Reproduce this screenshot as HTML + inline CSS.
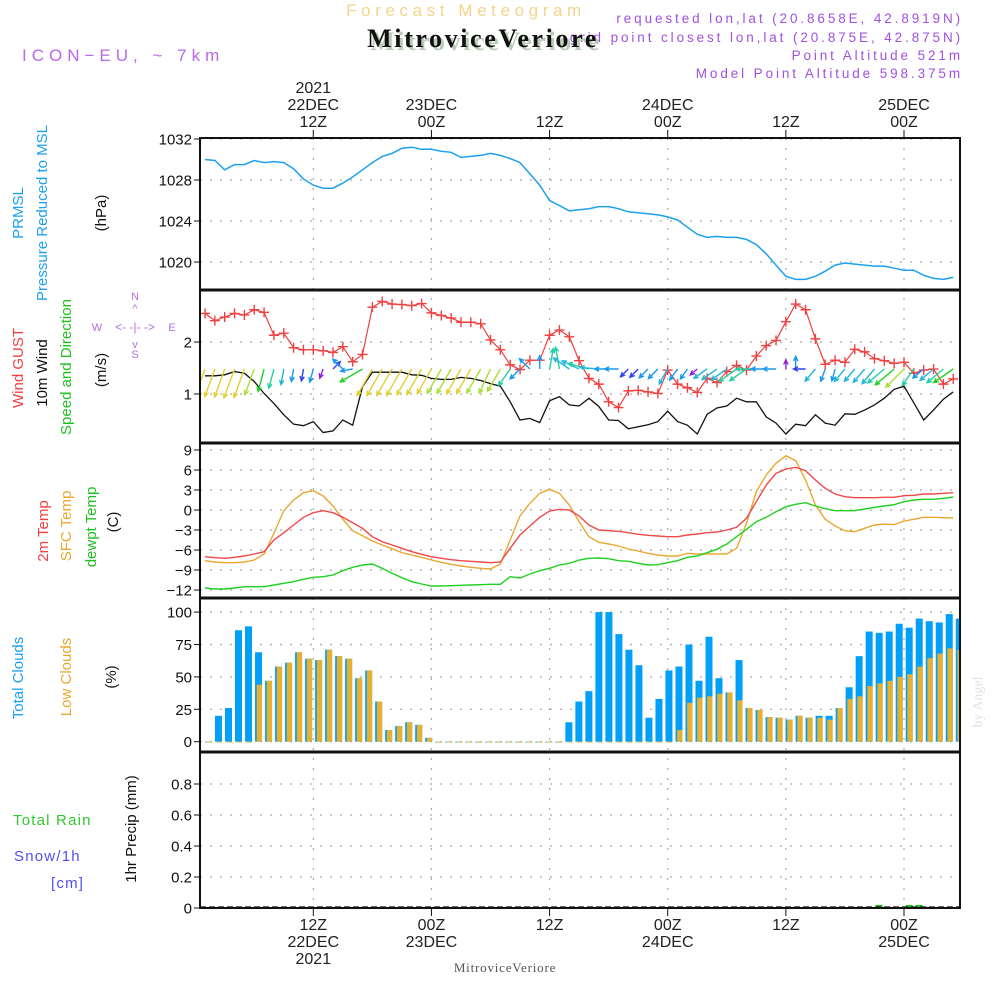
<!DOCTYPE html>
<html><head><meta charset="utf-8"><title>Meteogram MitroviceVeriore</title>
<style>
html,body{margin:0;padding:0;background:#fff;}
svg{display:block;}
text{font-family:"Liberation Sans",sans-serif;}
</style></head>
<body>
<svg id="chart" width="1000" height="1000" viewBox="0 0 1000 1000" xmlns="http://www.w3.org/2000/svg">
<rect x="0" y="0" width="1000" height="1000" fill="#fff"/>
<!-- header -->
<text x="466" y="16" text-anchor="middle" font-size="17" fill="#f4d48c" letter-spacing="4.6">Forecast Meteogram</text>
<text x="963" y="23" text-anchor="end" font-size="13.5" fill="#a050e0" letter-spacing="2.9">requested lon,lat (20.8658E, 42.8919N)</text>
<text x="963" y="42" text-anchor="end" font-size="13.5" fill="#a050e0" letter-spacing="2.9">grid point closest lon,lat (20.875E, 42.875N)</text>
<text x="486" y="50" text-anchor="middle" font-size="26" font-weight="bold" fill="#b8ccb8" letter-spacing="2.6" style="font-family:'Liberation Serif',serif">MitroviceVeriore</text>
<text x="483" y="47" text-anchor="middle" font-size="26" font-weight="bold" fill="#111" letter-spacing="2.6" style="font-family:'Liberation Serif',serif">MitroviceVeriore</text>
<text x="963" y="60" text-anchor="end" font-size="13.5" fill="#a050e0" letter-spacing="2.9">Point Altitude 521m</text>
<text x="963" y="78" text-anchor="end" font-size="13.5" fill="#a050e0" letter-spacing="2.9">Model Point Altitude 598.375m</text>
<text x="22" y="61" font-size="17" fill="#b868e8" letter-spacing="5">ICON−EU, ~ 7km</text>

<!-- left labels -->
<g font-size="15">
<text transform="translate(23,213) rotate(-90)" text-anchor="middle" fill="#1ca0f0">PRMSL</text>
<text transform="translate(47,213) rotate(-90)" text-anchor="middle" fill="#1ca0f0">Pressure Reduced to MSL</text>
<text transform="translate(106,213) rotate(-90)" text-anchor="middle" fill="#111">(hPa)</text>
<text transform="translate(23,368) rotate(-90)" text-anchor="middle" fill="#f04040">Wind GUST</text>
<text transform="translate(47,373) rotate(-90)" text-anchor="middle" fill="#111">10m Wind</text>
<text transform="translate(71,367) rotate(-90)" text-anchor="middle" fill="#20c020">Speed and Direction</text>
<text transform="translate(106,370) rotate(-90)" text-anchor="middle" fill="#111">(m/s)</text>
<text transform="translate(48,531) rotate(-90)" text-anchor="middle" fill="#f04040">2m Temp</text>
<text transform="translate(71,526) rotate(-90)" text-anchor="middle" fill="#e8a830">SFC Temp</text>
<text transform="translate(96,527) rotate(-90)" text-anchor="middle" fill="#20c020">dewpt Temp</text>
<text transform="translate(118,522) rotate(-90)" text-anchor="middle" fill="#111">(C)</text>
<text transform="translate(23,678) rotate(-90)" text-anchor="middle" fill="#1ca0f0">Total Clouds</text>
<text transform="translate(71,677) rotate(-90)" text-anchor="middle" fill="#e8a830">Low Clouds</text>
<text transform="translate(116,677) rotate(-90)" text-anchor="middle" fill="#111">(%)</text>
<text transform="translate(136,829) rotate(-90)" text-anchor="middle" fill="#111">1hr Precip (mm)</text>
<text x="13" y="825" fill="#30c830" letter-spacing="1.2">Total  Rain</text>
<text x="14" y="861" fill="#5050f0" letter-spacing="1.2">Snow/1h</text>
<text x="51" y="888" fill="#5050f0" letter-spacing="1.2">[cm]</text>
</g>
<g font-size="11" fill="#b070e0">
<text x="135" y="300" text-anchor="middle">N</text>
<text x="135" y="358" text-anchor="middle">S</text>
<text x="97" y="331" text-anchor="middle">W</text>
<text x="172" y="331" text-anchor="middle">E</text>
<text x="135" y="331" text-anchor="middle" font-size="12">&lt;- -|- -&gt;</text>
<text x="135" y="312" text-anchor="middle">^</text>
<text x="135" y="348" text-anchor="middle">v</text>
</g>
<text transform="translate(982,702) rotate(-90)" text-anchor="middle" font-size="14" fill="#dde6dd" style="font-family:'Liberation Serif',serif">by Angel</text>
<text x="505" y="972" text-anchor="middle" font-size="13" fill="#555" letter-spacing="0.8" style="font-family:'Liberation Serif',serif">MitroviceVeriore</text>
<g id="plot"></g>
</svg>
<script>
// hours relative to 22DEC 12Z, -11..65
const hours = [];
for (let h = -11; h <= 65; h++) hours.push(h);
const timeTicks = [0, 12, 24, 36, 48, 60];
const topTickLabels = [["2021","22DEC","12Z"],["","23DEC","00Z"],["","","12Z"],["","24DEC","00Z"],["","","12Z"],["","25DEC","00Z"]];
const bottomTickLabels = [["12Z","22DEC","2021"],["00Z","23DEC",""],["12Z","",""],["00Z","24DEC",""],["12Z","",""],["00Z","25DEC",""]];

const pressure = [1030.0,1029.9,1029.0,1029.5,1029.5,1029.9,1029.7,1029.8,1029.7,1029.1,1028.1,1027.5,1027.2,1027.2,1027.7,1028.3,1029.0,1029.7,1030.3,1030.6,1031.1,1031.2,1031.0,1031.0,1030.8,1030.7,1030.2,1030.3,1030.4,1030.6,1030.4,1030.1,1029.7,1028.6,1027.5,1026.0,1025.5,1025.0,1025.1,1025.2,
1025.4,1025.4,1025.2,1024.9,1024.8,1024.7,1024.6,1024.4,1024.1,1023.4,1022.7,1022.4,1022.5,1022.4,1022.4,1022.2,1021.7,1020.8,1019.7,1018.6,1018.3,1018.3,1018.6,1019.1,1019.7,1019.9,1019.8,1019.7,1019.6,1019.6,1019.4,1019.2,1019.2,1018.7,1018.4,1018.3,1018.5];
const pressureTicks = [1032, 1028, 1024, 1020];

const windSpeed = [1.35,1.35,1.37,1.43,1.40,1.24,1.01,0.82,0.60,0.42,0.39,0.47,0.26,0.29,0.50,0.40,1.14,1.42,1.42,1.42,1.42,1.37,1.36,1.30,1.28,1.28,1.32,1.30,1.26,1.20,1.15,0.85,0.50,0.53,0.45,0.87,0.95,0.79,0.77,0.92,
0.76,0.50,0.49,0.33,0.37,0.41,0.47,0.67,0.47,0.40,0.23,0.61,0.73,0.77,0.92,0.85,0.85,0.56,0.44,0.23,0.42,0.39,0.60,0.44,0.40,0.62,0.61,0.69,0.79,0.92,1.09,1.15,0.83,0.50,0.69,0.90,1.04];
const windGust = [2.55,2.41,2.48,2.55,2.52,2.62,2.57,2.13,2.17,1.89,1.85,1.85,1.83,1.80,1.91,1.62,1.76,2.67,2.78,2.73,2.72,2.70,2.74,2.56,2.51,2.46,2.38,2.38,2.35,2.04,1.85,1.56,1.47,1.65,1.65,2.13,2.23,2.10,1.64,1.30,
1.19,0.85,0.74,1.06,1.07,1.04,1.01,1.46,1.19,1.12,1.03,1.30,1.22,1.43,1.55,1.46,1.73,1.93,2.03,2.39,2.73,2.62,2.06,1.57,1.65,1.61,1.86,1.81,1.68,1.64,1.59,1.61,1.40,1.46,1.48,1.19,1.29];
const windDir = [20,20,20,20,20,20,15,15,10,10,10,15,20,225,135,80,60,30,30,30,30,30,30,30,30,30,30,30,30,25,30,35,45,135,180,190,170,125,115,105,
95,90,90,45,45,45,45,30,35,35,50,55,55,55,55,55,90,90,90,180,180,90,40,20,15,40,40,40,40,50,50,45,35,50,50,50,55];
const windTicks = [2, 1];

const temp2m = [-7.0,-7.15,-7.25,-7.1,-6.9,-6.6,-6.25,-4.5,-3.4,-2.25,-1.1,-0.4,-0.1,-0.4,-1.1,-1.9,-2.75,-4.0,-4.75,-5.25,-5.75,-6.25,-6.65,-7.0,-7.25,-7.45,-7.6,-7.7,-7.8,-7.9,-7.8,-5.75,-3.75,-2.4,-1.1,-0.15,0.1,0,-0.9,-2.25,
-3.0,-3.1,-3.2,-3.4,-3.65,-3.8,-3.9,-4.0,-4.0,-3.75,-3.6,-3.4,-3.3,-3.0,-2.6,-1.25,1.25,3.75,5.5,6.15,6.4,5.9,4.5,3.25,2.4,2.0,1.85,1.85,1.85,1.9,1.9,2.15,2.2,2.4,2.4,2.5,2.6];
const tempSfc = [-7.6,-7.8,-7.9,-7.9,-7.8,-7.5,-6.6,-3.5,-0.1,1.5,2.6,2.9,2.1,0.6,-1.4,-3.1,-3.85,-4.65,-5.25,-5.8,-6.4,-6.75,-7.1,-7.5,-7.85,-8.15,-8.4,-8.6,-8.75,-8.85,-8.1,-4.5,-0.9,1.0,2.5,3.1,2.5,0.75,-1.75,-4.0,
-4.85,-5.1,-5.4,-5.85,-6.15,-6.5,-6.75,-6.9,-6.9,-6.5,-6.6,-6.6,-6.6,-6.6,-5.75,-2.0,2.75,5.25,7.0,8.15,7.4,4.5,0.75,-1.4,-2.4,-3.1,-3.25,-2.75,-2.25,-2.1,-2.2,-1.65,-1.4,-1.1,-1.1,-1.15,-1.2];
const dewPoint = [-11.7,-11.85,-11.85,-11.7,-11.5,-11.5,-11.5,-11.25,-11.0,-10.75,-10.4,-10.1,-10.0,-9.75,-9.1,-8.6,-8.25,-8.1,-8.75,-9.5,-10.15,-10.75,-11.1,-11.4,-11.4,-11.35,-11.3,-11.25,-11.2,-11.15,-11.15,-10.0,-10.2,-9.6,-9.1,-8.75,-8.25,-8.0,-7.5,-7.25,
-7.2,-7.3,-7.6,-7.7,-8.0,-8.25,-8.2,-7.9,-7.6,-7.1,-6.9,-6.4,-5.9,-5.1,-4.0,-2.9,-1.75,-1.1,-0.25,0.5,0.85,1.1,0.6,0.2,-0.1,-0.1,-0.1,0.15,0.4,0.6,0.8,1.25,1.5,1.6,1.6,1.75,1.95];
const tempTicks = [9, 6, 3, 0, -3, -6, -9, -12];

const totalClouds = [0,20,26,86,89,69,47,58,61,69,64,63,71,66,64,49,55,31,9,12,15,13,3,0,0,0,0,0,0,0,0,0,0,0,0,0,
15,31,39,100,100,83,71,59,18.5,33,55,58,75,47,81,49,38,63,26,24.5,19,18.5,17,20,18.5,20,20,26,42,66,85,84,85,91,88,95,93,92,98.5,95];
const lowClouds = [0,0,0,0,0,44,47,58,61,69,64,63,71,66,64,49,55,31,9,12,15,13,3,0,0,0,0,0,0,0,0,0,0,0,0,0,
0,0,0,0,0,0,0,0,0,0,0,9,30,34,35,37,38,32,26,24.5,19,18.5,17,20,18.5,18.5,17,26,33,35,43,45,47,50,52,58,64.5,68,72,71];
const cloudTicks = [100, 75, 50, 25, 0];

const precipBars = [67, 70, 71, 72];
const precipVals = [0.02, 0.02, 0.02, 0.008];
const precipTicks = [0.8, 0.6, 0.4, 0.2, 0];

// ---------- layout ----------
const X0 = 200, X1 = 960;
const xT = h => 313.3 + h * 9.845;
const xBar = i => 208.5 + i * 10.01;
const panels = [
  {top:138, bot:290}, {top:290, bot:443}, {top:443, bot:598}, {top:598, bot:752}, {top:752, bot:908}
];
const yP = v => 139 + (1032 - v) * 10.25;
const yW = v => 394 - (v - 1) * 52;
const yTm = v => 510 - v * 6.667;
const yC = v => 741.7 - v * 1.296;
const yR = v => 908 - v * 155;

const NS = "http://www.w3.org/2000/svg";
const plot = document.getElementById('plot');
function el(tag, attrs, parent) {
  const e = document.createElementNS(NS, tag);
  for (const k in attrs) e.setAttribute(k, attrs[k]);
  (parent || plot).appendChild(e);
  return e;
}
const clip = el('clipPath', {id:'pclip'});
el('rect', {x:X0, y:138, width:X1 - X0, height:770}, clip);

// gridlines
function hgrid(vals, fy, name, fmt) {
  vals.forEach(v => {
    const y = fy(v);
    const g = el('line', {x1:X0, x2:X1, y1:y, y2:y, stroke:'#aaa', 'stroke-width':1.2, 'stroke-dasharray':'2 8'});
    
    
    const t = el('line', {x1:X0 - 6, x2:X0, y1:y, y2:y, stroke:'#111', 'stroke-width':1});
    
    
    const lb = el('text', {x:X0 - 8, y:y + 5.5, 'text-anchor':'end', 'font-size':15, fill:'#111'});
    lb.textContent = fmt ? fmt(v) : String(v);
    
    
  });
}
hgrid(pressureTicks, yP, 'pressure-axis');
hgrid(windTicks, yW, 'wind-axis');
hgrid(tempTicks, yTm, 'temp-axis', v => v < 0 ? '−' + Math.abs(v) : String(v));
hgrid(cloudTicks, yC, 'cloud-axis');
hgrid(precipTicks, yR, 'precip-axis', v => v === 0 ? '0' : v.toFixed(1));

timeTicks.forEach((h, i) => {
  const x = xT(h);
  const g = el('line', {x1:x, x2:x, y1:138, y2:908, stroke:'#aaa', 'stroke-width':1.2, 'stroke-dasharray':'2 8'});
  
  
  el('line', {x1:x, x2:x, y1:130, y2:138, stroke:'#111', 'stroke-width':1});
  el('line', {x1:x, x2:x, y1:908, y2:916, stroke:'#111', 'stroke-width':1});
  topTickLabels[i].forEach((s, k) => {
    if (!s) return;
    const t = el('text', {x:x, y:93 + k * 17, 'text-anchor':'middle', 'font-size':16, fill:'#222'});
    t.textContent = s;
    
    
  });
  bottomTickLabels[i].forEach((s, k) => {
    if (!s) return;
    const t = el('text', {x:x, y:930 + k * 17, 'text-anchor':'middle', 'font-size':16, fill:'#222'});
    t.textContent = s;
    
    
  });
});

// series helpers
const series = el('g', {'clip-path':'url(#pclip)'});
function line(vals, fy, color, name, w) {
  const d = vals.map((v, i) => (i ? 'L' : 'M') + xT(hours[i]).toFixed(1) + ',' + fy(v).toFixed(1)).join('');
  const p = el('path', {d:d, fill:'none', stroke:color, 'stroke-width':w || 1.4}, series);
  
  
}
line(pressure, yP, '#1ca0f0', 'pressure-line', 1.5);

// temperature
line(tempSfc, yTm, '#e8a830', 'sfc-temp-line');
line(temp2m, yTm, '#f04848', 't2m-line');
line(dewPoint, yTm, '#20d020', 'dewpoint-line');

// wind
line(windSpeed, yW, '#111', 'wind-speed-line', 1.3);
line(windGust, yW, '#f04040', 'wind-gust-line', 1.2);
windGust.forEach((v, i) => {
  const x = xT(hours[i]), y = yW(v);
  const m = el('path', {d:`M${x-5},${y}h10M${x},${y-5}v10`, stroke:'#f04040', 'stroke-width':1.4}, series);
  
  
});
function speedColor(s) {
  if (s >= 1.3) return '#e0d030';
  if (s >= 1.15) return '#a8e030';
  if (s >= 1.0) return '#20d020';
  if (s >= 0.8) return '#20d0a0';
  if (s >= 0.6) return '#20b8d8';
  if (s >= 0.4) return '#1898f0';
  if (s >= 0.28) return '#3040f0';
  return '#9020e0';
}
windDir.forEach((d, i) => {
  const s = windSpeed[i];
  const L = 18 * s + 5;
  const r = d * Math.PI / 180;
  const x0 = xT(hours[i]), y0 = 369;
  const dx = -Math.sin(r) * L, dy = Math.cos(r) * L;
  const x1 = x0 + dx, y1 = y0 + dy;
  const a = Math.atan2(dy, dx);
  const hl = 5;
  const c = speedColor(s);
  const hx1 = x1 - hl * Math.cos(a - 0.45), hy1 = y1 - hl * Math.sin(a - 0.45);
  const hx2 = x1 - hl * Math.cos(a + 0.45), hy2 = y1 - hl * Math.sin(a + 0.45);
  const p = el('path', {d:`M${x0.toFixed(1)},${y0}L${x1.toFixed(1)},${y1.toFixed(1)}M${hx1.toFixed(1)},${hy1.toFixed(1)}L${x1.toFixed(1)},${y1.toFixed(1)}L${hx2.toFixed(1)},${hy2.toFixed(1)}`, fill:'none', stroke:c, 'stroke-width':1.4}, series);
  
  
});

// clouds
totalClouds.forEach((v, i) => {
  const x = xBar(i);
  const b = el('rect', {x:x - 3.5, y:yC(v), width:7, height:Math.max(0.8, yC(0) - yC(v)), fill:'#00a0f8'}, series);
  
  
  const lv = lowClouds[i];
  const b2 = el('rect', {x:x - 1.8, y:yC(lv), width:5.3, height:Math.max(0.8, yC(0) - yC(lv)), fill:'#e8b030'}, series);
  
  
});

// precip
precipBars.forEach((bi, k) => {
  const x = xBar(bi);
  const b = el('rect', {x:x - 3.5, y:yR(precipVals[k]), width:7, height:yR(0) - yR(precipVals[k]), fill:'#20c020'}, series);
  
  
});
const base = el('line', {x1:X0, x2:X1, y1:907, y2:907, stroke:'#111', 'stroke-width':1.2, 'stroke-dasharray':'6 3'});



// panel frames
panels.forEach((p, i) => {
  const r = el('rect', {x:X0, y:p.top, width:X1 - X0, height:p.bot - p.top, fill:'none', stroke:'#111', 'stroke-width':2});
  
  
});
panels.slice(1).forEach(p => {
  el('line', {x1:X0, x2:X1, y1:p.top, y2:p.top, stroke:'#111', 'stroke-width':3});
});
</script>
</body></html>
